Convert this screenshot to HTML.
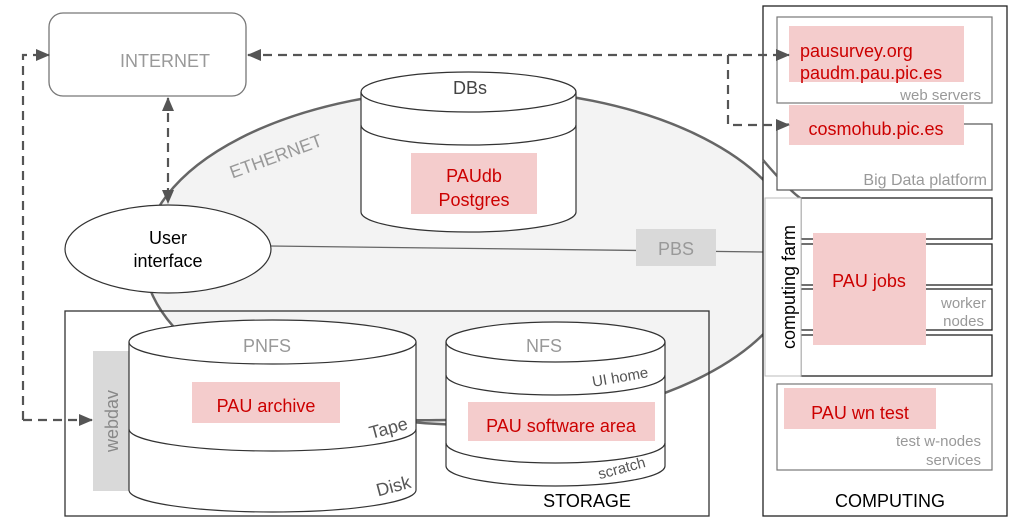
<!DOCTYPE html>
<html><head><meta charset="utf-8"><style>body{margin:0;background:#fff}svg{display:block}text{font-family:"Liberation Sans",sans-serif}</style></head><body>
<svg width="1026" height="527" viewBox="0 0 1026 527">
<defs><marker id="a" markerWidth="14" markerHeight="12" refX="13" refY="6" orient="auto" markerUnits="userSpaceOnUse" viewBox="0 0 14 12"><path d="M0,0L14,6L0,12z" fill="#555"/></marker>
<marker id="as" markerWidth="14" markerHeight="12" refX="1" refY="6" orient="auto" markerUnits="userSpaceOnUse" viewBox="0 0 14 12"><path d="M14,0L0,6L14,12z" fill="#555"/></marker></defs>
<ellipse cx="472" cy="257" rx="328" ry="168" fill="#f3f3f3" stroke="#666" stroke-width="2.5"/>
<text x="278" y="162" fill="#999" font-size="18" transform="rotate(-20 278 162)" text-anchor="middle">ETHERNET</text>
<rect x="49" y="13" width="197" height="83" rx="14" fill="#fff" stroke="#777" stroke-width="1.3"/>
<text x="165" y="67" fill="#999" font-size="18" text-anchor="middle">INTERNET</text>
<line x1="270" y1="246" x2="765" y2="252" stroke="#666" stroke-width="1.3"/>
<rect x="636" y="229" width="80" height="37" fill="#d9d9d9"/>
<text x="676" y="255" fill="#999" font-size="18" text-anchor="middle">PBS</text>
<ellipse cx="168" cy="249" rx="103" ry="44" fill="#fff" stroke="#333" stroke-width="1.2"/>
<text x="168" y="244" font-size="18" text-anchor="middle">User</text>
<text x="168" y="267" font-size="18" text-anchor="middle">interface</text>
<g stroke="#333" stroke-width="1.2" fill="#fff">
<path d="M361,92A107.5,20 0 0 1 576,92V212A107.5,20 0 0 1 361,212Z"/>
<path d="M361,92A107.5,20 0 0 0 576,92" fill="none"/>
<path d="M361,125A107.5,20 0 0 0 576,125" fill="none"/>
</g>
<text x="470" y="94" fill="#444" font-size="18" text-anchor="middle">DBs</text>
<rect x="411" y="153" width="126" height="61" fill="#f4cccc"/>
<text x="474" y="182" fill="#c00" font-size="18" text-anchor="middle">PAUdb</text>
<text x="474" y="206" fill="#c00" font-size="18" text-anchor="middle">Postgres</text>
<rect x="65" y="311" width="644" height="205" fill="none" stroke="#333" stroke-width="1.3"/>
<path d="M318,395 C 380,425 420,420 446,420" stroke="#666" stroke-width="2.5" fill="none"/>
<rect x="93" y="351" width="37" height="140" fill="#d9d9d9"/>
<text x="118" y="421" fill="#888" font-size="18" text-anchor="middle" transform="rotate(-90 118 421)">webdav</text>
<g stroke="#333" stroke-width="1.2" fill="#fff">
<path d="M129,342A143.5,22 0 0 1 416,342V490A143.5,22 0 0 1 129,490Z"/>
<path d="M129,342A143.5,22 0 0 0 416,342" fill="none"/>
<path d="M129,429A143.5,22 0 0 0 416,429" fill="none"/>
<path d="M446,342A109.5,20 0 0 1 665,342V466A109.5,20 0 0 1 446,466Z"/>
<path d="M446,342A109.5,20 0 0 0 665,342" fill="none"/>
<path d="M446,375A109.5,20 0 0 0 665,375" fill="none"/>
<path d="M446,443A109.5,20 0 0 0 665,443" fill="none"/>
</g>
<text x="267" y="352" fill="#999" font-size="18" text-anchor="middle">PNFS</text>
<rect x="192" y="382" width="148" height="41" fill="#f4cccc"/>
<text x="266" y="412" fill="#c00" font-size="18" text-anchor="middle">PAU archive</text>
<text x="390" y="434" fill="#555" font-size="18" text-anchor="middle" transform="rotate(-15 390 434)">Tape</text>
<text x="395" y="492" fill="#555" font-size="18" text-anchor="middle" transform="rotate(-15 395 492)">Disk</text>
<text x="544" y="352" fill="#999" font-size="18" text-anchor="middle">NFS</text>
<text x="621" y="382" fill="#555" font-size="15" text-anchor="middle" transform="rotate(-10 621 382)">UI home</text>
<rect x="468" y="402" width="187" height="39" fill="#f4cccc"/>
<text x="561" y="432" fill="#c00" font-size="18" text-anchor="middle">PAU software area</text>
<text x="623" y="473" fill="#555" font-size="15" text-anchor="middle" transform="rotate(-15 623 473)">scratch</text>
<text x="587" y="507" font-size="18" text-anchor="middle">STORAGE</text>
<rect x="763" y="6" width="244" height="510" fill="#fff" stroke="#222" stroke-width="1.3"/>
<path d="M763,160 C 780,180 795,195 803,200" stroke="#666" stroke-width="2.5" fill="none"/>
<rect x="777" y="17" width="215" height="86" fill="#fff" stroke="#777" stroke-width="1.2"/>
<rect x="789" y="26" width="175" height="56" fill="#f4cccc"/>
<text x="800" y="57" fill="#c00" font-size="18">pausurvey.org</text>
<text x="800" y="79" fill="#c00" font-size="18">paudm.pau.pic.es</text>
<text x="981" y="100" fill="#999" font-size="15" text-anchor="end">web servers</text>
<rect x="777" y="124" width="215" height="66" fill="#fff" stroke="#555" stroke-width="1.2"/>
<rect x="789" y="105" width="175" height="40" fill="#f4cccc"/>
<text x="876" y="135" fill="#c00" font-size="18" text-anchor="middle">cosmohub.pic.es</text>
<text x="987" y="185" fill="#999" font-size="16" text-anchor="end">Big Data platform</text>
<g fill="#fff" stroke="#222" stroke-width="1.3">
<rect x="801" y="198" width="191" height="41"/>
<rect x="801" y="244" width="191" height="41"/>
<rect x="801" y="289" width="191" height="41"/>
<rect x="801" y="335" width="191" height="41"/>
</g>
<rect x="765" y="198" width="36" height="178" fill="#fff" stroke="#bbb" stroke-width="1"/>
<text x="795" y="287" font-size="18" text-anchor="middle" transform="rotate(-90 795 287)">computing farm</text>
<rect x="813" y="233" width="113" height="112" fill="#f4cccc"/>
<text x="869" y="287" fill="#c00" font-size="18" text-anchor="middle">PAU jobs</text>
<text x="986" y="308" fill="#999" font-size="15" text-anchor="end">worker</text>
<text x="984" y="326" fill="#999" font-size="15" text-anchor="end">nodes</text>
<rect x="777" y="384" width="215" height="86" fill="#fff" stroke="#777" stroke-width="1.2"/>
<rect x="784" y="388" width="152" height="41" fill="#f4cccc"/>
<text x="860" y="419" fill="#c00" font-size="18" text-anchor="middle">PAU wn test</text>
<text x="981" y="446" fill="#999" font-size="15" text-anchor="end">test w-nodes</text>
<text x="981" y="465" fill="#999" font-size="15" text-anchor="end">services</text>
<text x="890" y="507" font-size="18" text-anchor="middle">COMPUTING</text>
<g stroke="#555" stroke-width="2.2" stroke-dasharray="9,6" fill="none">
<path d="M168,98V203" marker-start="url(#as)" marker-end="url(#a)"/>
<path d="M23,420V55H49" marker-end="url(#a)"/>
<path d="M23,420H92" marker-end="url(#a)"/>
<path d="M248,55H789" marker-start="url(#as)" marker-end="url(#a)"/>
<path d="M728,55V125H789" marker-end="url(#a)"/>
</g>
</svg>
</body></html>
